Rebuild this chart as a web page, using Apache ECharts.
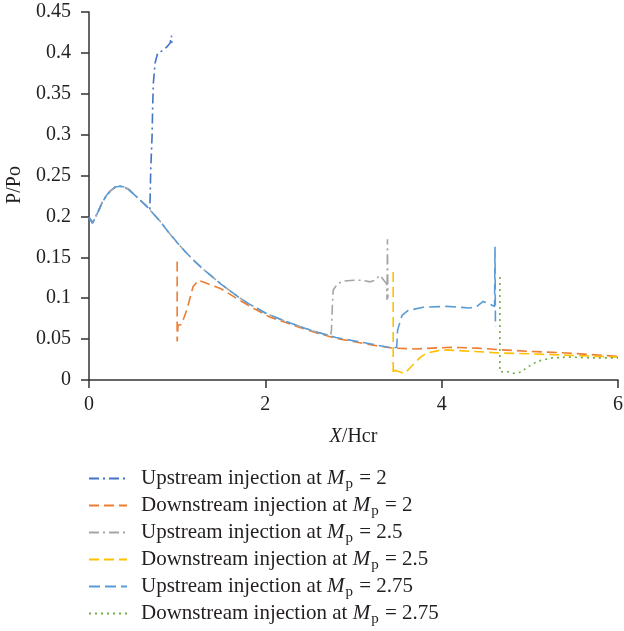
<!DOCTYPE html>
<html>
<head>
<meta charset="utf-8">
<script src="https://cdn.jsdelivr.net/npm/echarts@6/dist/echarts.min.js"></script>
<style>
  html, body { margin: 0; padding: 0; background: #fff; }
  #chart { width: 624px; height: 631px; }
</style>
</head>
<body>
<div id="chart"></div>
<script>
// Wall pressure ratio P/Po along X/Hcr, undisturbed approach flow
const approachFlow = [
  [0, 0.199], [0.04, 0.192], [0.1, 0.205], [0.15, 0.217], [0.2, 0.226],
  [0.25, 0.232], [0.3, 0.236], [0.35, 0.237], [0.4, 0.236], [0.45, 0.233],
  [0.5, 0.228], [0.55, 0.223], [0.6, 0.218], [0.65, 0.213], [0.69, 0.208],
  [0.8, 0.195], [0.9, 0.181], [1.0, 0.168], [1.1, 0.156], [1.2, 0.145],
  [1.3, 0.135], [1.4, 0.126], [1.5, 0.117], [1.6, 0.109], [1.7, 0.101],
  [1.8, 0.094], [1.9, 0.088], [2.0, 0.082], [2.2, 0.073], [2.4, 0.065],
  [2.6, 0.058], [2.74, 0.054], [2.8, 0.052], [3.0, 0.048], [3.2, 0.044],
  [3.45, 0.039]
];

// Upstream injection, Mp = 2 (separation ahead of the jet)
const upstreamM2 = [
  [0.695, 0.23], [0.70, 0.257], [0.715, 0.297], [0.722, 0.334], [0.73, 0.363],
  [0.75, 0.388], [0.78, 0.4], [0.84, 0.403], [0.88, 0.407], [0.92, 0.412],
  [0.935, 0.421], [0.94, 0.412]
];

// Downstream injection, Mp = 2
const downstreamM2 = [
  [1.0, 0.145], [1.0, 0.047], [1.01, 0.067], [1.05, 0.068], [1.11, 0.086],
  [1.18, 0.114], [1.24, 0.122], [1.29, 0.12], [1.49, 0.112], [1.67, 0.1],
  [1.86, 0.088], [2.05, 0.077], [2.24, 0.07], [2.4, 0.064], [2.6, 0.057],
  [2.8, 0.051], [3.0, 0.047], [3.2, 0.043], [3.45, 0.039], [3.7, 0.038],
  [3.9, 0.039], [4.1, 0.04], [4.4, 0.039], [4.66, 0.037], [5.0, 0.035],
  [5.42, 0.033], [5.7, 0.031], [6.0, 0.029]
];

// Upstream injection, Mp = 2.5
const upstreamM25 = [
  [2.75, 0.061], [2.76, 0.09], [2.77, 0.11], [2.82, 0.118], [2.9, 0.121],
  [3.0, 0.122], [3.1, 0.122], [3.19, 0.12], [3.24, 0.122], [3.3, 0.128],
  [3.35, 0.121], [3.375, 0.118], [3.38, 0.098], [3.385, 0.172], [3.39, 0.1]
];

// Downstream injection, Mp = 2.5
const downstreamM25 = [
  [3.45, 0.132], [3.45, 0.007], [3.47, 0.012], [3.52, 0.01], [3.58, 0.008],
  [3.67, 0.018], [3.75, 0.027], [3.83, 0.033], [4.01, 0.037], [4.35, 0.035],
  [4.66, 0.033], [5.0, 0.032], [5.5, 0.03], [6.0, 0.028]
];

// Upstream injection, Mp = 2.75
const upstreamM275 = [
  [3.49, 0.04], [3.5, 0.061], [3.55, 0.079], [3.62, 0.085], [3.79, 0.089],
  [4.06, 0.09], [4.32, 0.088], [4.4, 0.09], [4.47, 0.096], [4.52, 0.094],
  [4.6, 0.09], [4.605, 0.163], [4.61, 0.065]
];

// Downstream injection, Mp = 2.75
const downstreamM275 = [
  [4.66, 0.126], [4.66, 0.01], [4.75, 0.01], [4.83, 0.008], [4.91, 0.01],
  [4.96, 0.015], [5.09, 0.023], [5.25, 0.027], [5.45, 0.028], [5.68, 0.027],
  [6.0, 0.027]
];

const caseLabels = [
  'Upstream injection at', 'Downstream injection at',
  'Upstream injection at', 'Downstream injection at',
  'Upstream injection at', 'Downstream injection at'
];
const machValues = ['2', '2', '2.5', '2.5', '2.75', '2.75'];

const xTicks = { min: 0, max: 6, interval: 2 };
const yTicks = { min: 0, max: 0.45, interval: 0.05 };

// upstream cases share the approach-flow curve up to their separation point
function withApproach(xEnd, tail) {
  return approachFlow.filter(p => p[0] <= xEnd).concat(tail);
}

const serif = 'Liberation Serif';
const ink = '#231f20';

const styles = [
  { color: '#4472C4', type: [10, 4, 2, 4] },
  { color: '#ED7D31', type: [10, 5] },
  { color: '#A5A5A5', type: [10, 4, 2, 4] },
  { color: '#FFC000', type: [10, 5] },
  { color: '#5B9BD5', type: [11, 5] },
  { color: '#70AD47', type: [2, 4] }
];

const seriesData = [
  withApproach(0.69, upstreamM2),
  downstreamM2,
  withApproach(2.74, upstreamM25),
  downstreamM25,
  withApproach(3.45, upstreamM275),
  downstreamM275
];

const names = caseLabels.map((t, i) => t + ' Mp = ' + machValues[i]);

const chart = echarts.init(document.getElementById('chart'), null, { renderer: 'canvas' });

chart.setOption({
  animation: false,
  backgroundColor: '#fff',
  grid: {
    left: 89, right: 6, top: 12, bottom: 251,
    containLabel: false, outerBoundsMode: 'none'
  },
  xAxis: {
    type: 'value',
    min: xTicks.min, max: xTicks.max, interval: xTicks.interval,
    name: '{i|X}/Hcr',
    nameLocation: 'middle',
    nameGap: 47,
    nameTextStyle: {
      fontFamily: serif, fontSize: 20, color: ink,
      rich: {
        i: { fontFamily: serif, fontSize: 20, fontStyle: 'italic', color: ink }
      }
    },
    axisLine: { lineStyle: { color: '#333', width: 1.5 } },
    axisTick: { show: true, length: 8, lineStyle: { color: '#333', width: 1.5 } },
    axisLabel: { fontFamily: serif, fontSize: 20, color: ink, margin: 15 },
    splitLine: { show: false }
  },
  yAxis: {
    type: 'value',
    min: yTicks.min, max: yTicks.max, interval: yTicks.interval,
    name: 'P/Po',
    nameLocation: 'middle',
    nameRotate: 90,
    nameGap: 56,
    nameTextStyle: { fontFamily: serif, fontSize: 20, color: ink, padding: [0, 0, 0, 22] },
    axisLine: { show: true, lineStyle: { color: '#333', width: 1.5 } },
    axisTick: { show: true, length: 8, lineStyle: { color: '#333', width: 1.5 } },
    axisLabel: { fontFamily: serif, fontSize: 20, color: ink, margin: 18 },
    splitLine: { show: false }
  },
  legend: {
    orient: 'vertical',
    left: 88,
    top: 468,
    height: 300,
    padding: 0,
    itemWidth: 38,
    itemHeight: 14,
    itemGap: 3,
    data: names,
    itemStyle: { opacity: 0 },
    formatter: function (name) {
      const i = names.indexOf(name);
      return '{t|' + caseLabels[i] + ' }{m|M}{p|p}{t| = ' + machValues[i] + '}';
    },
    textStyle: {
      fontFamily: serif, fontSize: 21, color: ink, padding: [0, 0, 0, 9],
      rich: {
        t: { fontFamily: serif, fontSize: 21, color: ink },
        m: { fontFamily: serif, fontSize: 21, color: ink, fontStyle: 'italic' },
        p: { fontFamily: serif, fontSize: 15, color: ink, padding: [12, 1, 0, 1] }
      }
    }
  },
  series: seriesData.map((d, i) => ({
    name: names[i],
    type: 'line',
    data: d,
    symbol: 'none',
    showSymbol: false,
    smooth: false,
    color: styles[i].color,
    lineStyle: { color: styles[i].color, width: 1.6, type: styles[i].type },
    z: 2 + i
  }))
});
</script>
</body>
</html>
